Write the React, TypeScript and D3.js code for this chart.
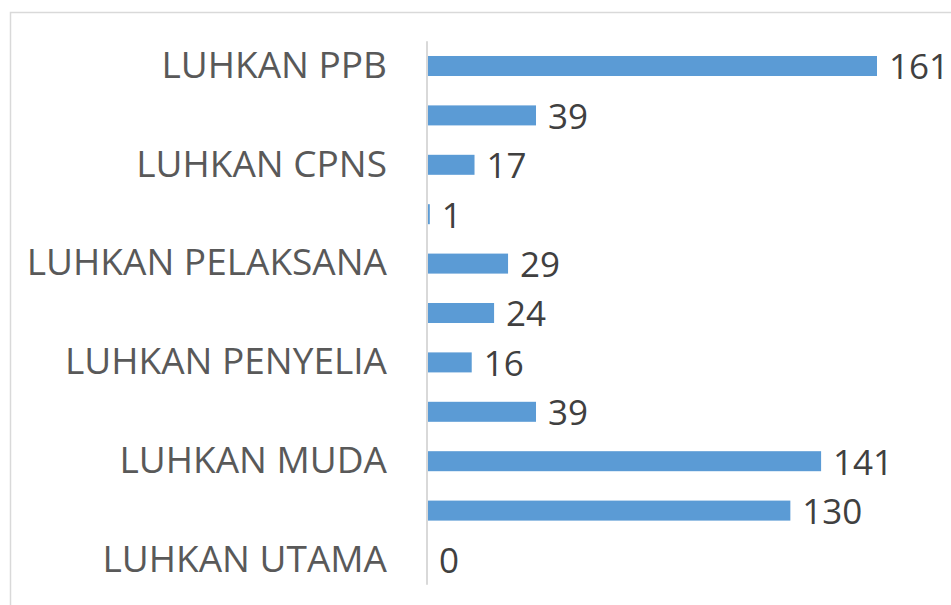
import * as React from "react";
import * as d3 from "d3";

// categories top to bottom; Excel only printed every other label
const categories = [
  "LUHKAN PPB",
  "LUHKAN PPPK",
  "LUHKAN CPNS",
  "LUHKAN TERAMPIL",
  "LUHKAN PELAKSANA",
  "LUHKAN MAHIR",
  "LUHKAN PENYELIA",
  "LUHKAN PERTAMA",
  "LUHKAN MUDA",
  "LUHKAN MADYA",
  "LUHKAN UTAMA",
];
const values = [161, 39, 17, 1, 29, 24, 16, 39, 141, 130, 0];
const shownLabels = categories.filter((d, i) => i % 2 === 0);

const W = 951;
const H = 605;

const App = () => {
  const ref = React.useRef(null);

  const x = d3.scaleLinear().domain([0, 161]).range([427, 877]);
  const y = d3
    .scaleBand()
    .domain(categories)
    .range([41.3, 584.7])
    .paddingInner(0.595)
    .paddingOuter(0.2975);

  React.useEffect(() => {
    const g = d3.select(ref.current);
    g.selectAll("*").remove();

    // frame
    g.append("rect")
      .attr("x", 10.5)
      .attr("y", 12.5)
      .attr("width", W + 20)
      .attr("height", H + 20)
      .attr("fill", "#fff")
      .attr("stroke", "#d9d9d9")
      .attr("stroke-width", 1.5);

    g.selectAll("rect.bar")
      .data(values)
      .enter()
      .append("rect")
      .attr("class", "bar")
      .attr("x", x(0))
      .attr("y", (d, i) => y(categories[i]))
      .attr("width", d => x(d) - x(0))
      .attr("height", y.bandwidth())
      .attr("fill", "#5b9bd5");

    // value labels
    g.selectAll("text.val")
      .data(values)
      .enter()
      .append("text")
      .attr("class", "val")
      .attr("x", d => x(d) + 12)
      .attr("y", (d, i) => y(categories[i]) + y.bandwidth() / 2)
      .attr("dy", "0.38em")
      .attr("font-family", "Open Sans")
      .attr("font-size", 35)
      .attr("fill", "#404040")
      .text(d => d);

    // category axis
    const axis = d3
      .axisLeft(y)
      .tickValues(shownLabels)
      .tickSize(0)
      .tickPadding(40);
    const ax = g.append("g").attr("transform", `translate(${x(0)},0)`).call(axis);
    ax.select(".domain").attr("stroke", "#d9d9d9").attr("stroke-width", 2)
      .attr("d", `M0,41.3V584.7`);
    ax.selectAll("text")
      .attr("font-family", "Open Sans")
      .attr("font-size", 37)
      .attr("fill", "#595959");
  }, []);

  return (
    <svg width={W} height={H} style={{ position: "absolute", left: 0, top: 0 }}>
      <g ref={ref} />
    </svg>
  );
};

export default App;
